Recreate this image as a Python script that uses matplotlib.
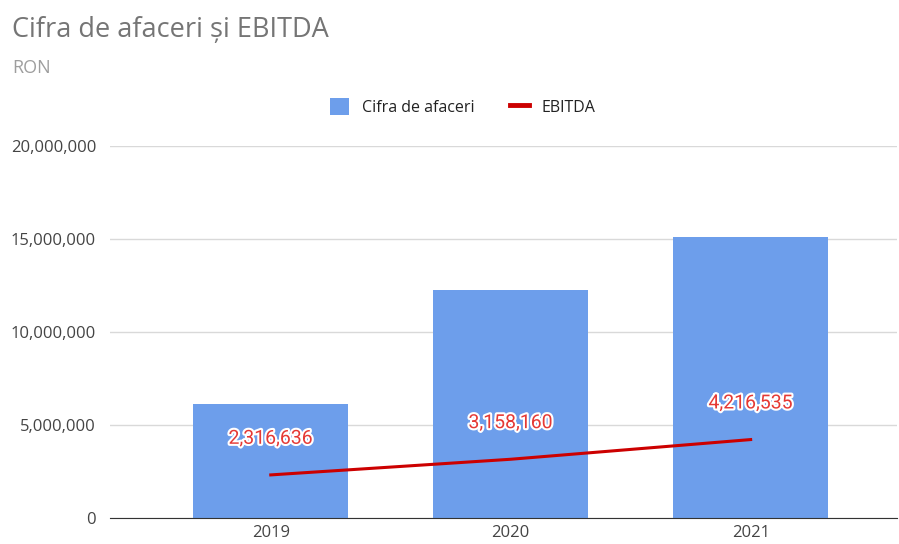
import matplotlib
matplotlib.use("Agg")
import matplotlib.pyplot as plt
import matplotlib.patheffects as pe
from matplotlib.ticker import FuncFormatter
from matplotlib.lines import Line2D
from matplotlib.patches import Patch

# Datos
ani = ["2019", "2020", "2021"]
cifra_afaceri = [6130000, 12260000, 15100000]
ebitda = [2316636, 3158160, 4216535]

plt.rcParams["font.family"] = ["Open Sans", "DejaVu Sans"]

fig = plt.figure(figsize=(8.99, 5.44), dpi=100)
ax = fig.add_axes([110 / 899, 26 / 544, 787 / 899, 372 / 544])

x = list(range(len(ani)))
ax.bar(x, cifra_afaceri, width=0.645, color="#6d9eeb", zorder=2)
ax.plot(x, ebitda, color="#cc0000", linewidth=2.2, zorder=3)

# Etichete EBITDA
for xi, v in zip(x, ebitda):
    ax.annotate(f"{v:,}", (xi, v), xytext=(0, 26), textcoords="offset points",
                ha="center", va="center", fontsize=14, color="#e53935",
                family=["Roboto", "DejaVu Sans"], zorder=4,
                path_effects=[pe.withStroke(linewidth=3, foreground="white")])

ax.set_ylim(0, 20000000)
ax.set_xlim(-0.67, 2.61)
ax.set_yticks([0, 5000000, 10000000, 15000000, 20000000])
ax.yaxis.set_major_formatter(FuncFormatter(lambda v, p: f"{int(v):,}"))
ax.set_xticks(x)
ax.set_xticklabels(ani)
ax.tick_params(axis="both", length=0, labelsize=12, labelcolor="#444444")
ax.tick_params(axis="y", pad=10)
ax.tick_params(axis="x", pad=5)
ax.grid(axis="y", color="#d9d9d9", linewidth=1, zorder=0)
for s in ["top", "right", "left"]:
    ax.spines[s].set_visible(False)
ax.spines["bottom"].set_color("#333333")
ax.spines["bottom"].set_zorder(5)

fig.text(12 / 899, 1 - 30 / 544, "Cifra de afaceri și EBITDA", fontsize=19.5,
         color="#757575", va="center")
fig.text(12 / 899, 1 - 68 / 544, "RON", fontsize=13, color="#9e9e9e", va="center")

handles = [Patch(facecolor="#6d9eeb", edgecolor="none"),
           Line2D([0], [0], color="#cc0000", linewidth=3.5)]
fig.legend(handles, ["Cifra de afaceri", "EBITDA"], loc="center",
           bbox_to_anchor=(463 / 899, 1 - 107 / 544), frameon=False,
           ncol=2, fontsize=11.5, handlelength=1.2, handleheight=1.2,
           columnspacing=2.2, labelcolor="#222222")

fig.savefig("out.png", dpi=100)
